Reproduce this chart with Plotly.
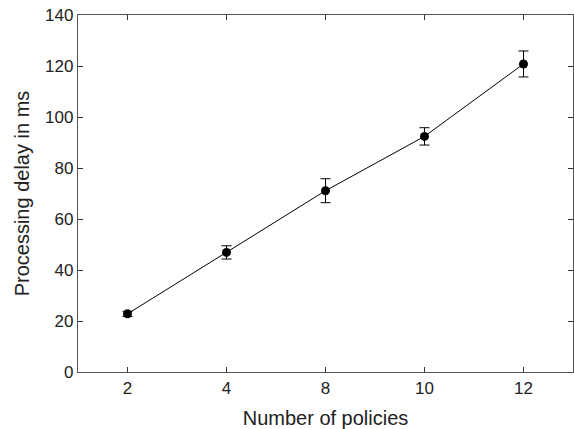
import plotly.graph_objects as go

policies = ["2", "4", "8", "10", "12"]
delay_ms = [22.8, 46.9, 71.1, 92.4, 120.8]
delay_err = [1.0, 2.6, 4.7, 3.4, 5.1]

fig = go.Figure()
fig.add_trace(go.Scatter(
    x=policies, y=delay_ms,
    mode="lines+markers",
    line=dict(color="black", width=1),
    marker=dict(color="black", size=9),
    error_y=dict(type="data", array=delay_err, visible=True,
                 color="black", thickness=1, width=5),
    showlegend=False,
))

axis_common = dict(
    showline=True, linecolor="#555555", linewidth=1.3, mirror="ticks",
    ticks="inside", ticklen=5, tickcolor="#333333", tickwidth=1,
    showgrid=False, zeroline=False,
    tickfont=dict(family="Liberation Sans, Arial, sans-serif", size=17, color="#222222"),
)

fig.update_layout(
    width=574, height=429,
    margin=dict(l=78, r=1, t=15, b=57),
    plot_bgcolor="white", paper_bgcolor="white",
    font=dict(family="Liberation Sans, Arial, sans-serif", size=17, color="#222222"),
    xaxis=dict(type="category", range=[-0.5, 4.5],
               title=dict(text="Number of policies", standoff=16),
               **axis_common),
    yaxis=dict(range=[0, 140], dtick=20,
               title=dict(text="Processing delay in ms", standoff=10),
               **axis_common),
)

fig.write_html("out.html")
